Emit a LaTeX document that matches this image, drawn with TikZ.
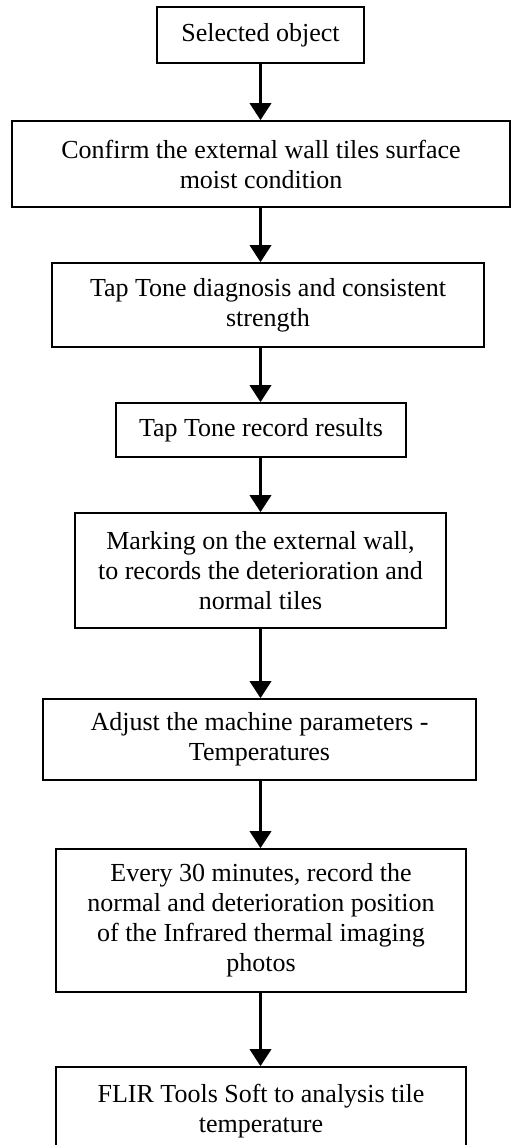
\documentclass[tikz,border=0pt]{standalone}
\usepackage{fontspec}
\setmainfont{Liberation Serif}
\usetikzlibrary{arrows.meta}
\begin{document}
\begin{tikzpicture}[x=1pt,y=-1pt,
  box/.style={draw, line width=1.6pt, inner sep=0pt, align=center,
    font=\fontsize{26}{30}\selectfont},
  flow/.style={-{Triangle[length=17pt,width=21pt]}, line width=3.5pt}]
\useasboundingbox (0,0) rectangle (512,1145);
\node[box, minimum width=207pt, minimum height=56pt] (b1) at (260.5,35) {Selected object};
\node[box, minimum width=498pt, minimum height=86pt] (b2) at (261,164) {Confirm the external wall tiles surface\\moist condition};
\node[box, minimum width=432pt, minimum height=84pt] (b3) at (268,305) {Tap Tone diagnosis and consistent\\strength};
\node[box, minimum width=290pt, minimum height=54pt] (b4) at (261,430) {Tap Tone record results};
\node[box, minimum width=371pt, minimum height=115pt] (b5) at (260.5,570.5) {Marking on the external wall,\\to records the deterioration and\\normal tiles};
\node[box, minimum width=433pt, minimum height=81pt] (b6) at (259.5,739.5) {Adjust the machine parameters -\\Temperatures};
\node[box, minimum width=410pt, minimum height=143pt] (b7) at (261,920.5) {Every 30 minutes, record the\\normal and deterioration position\\of the Infrared thermal imaging\\photos};
\node[box, minimum width=410pt, minimum height=88pt] (b8) at (261,1111) {FLIR Tools Soft to analysis tile\\temperature};
\draw[flow] (b1.south) -- (b2.north -| b1.south);
\draw[flow] (b2.south -| b1.south) -- (b3.north -| b1.south);
\draw[flow] (b3.south -| b1.south) -- (b4.north -| b1.south);
\draw[flow] (b4.south -| b1.south) -- (b5.north -| b1.south);
\draw[flow] (b5.south -| b1.south) -- (b6.north -| b1.south);
\draw[flow] (b6.south -| b1.south) -- (b7.north -| b1.south);
\draw[flow] (b7.south -| b1.south) -- (b8.north -| b1.south);
\end{tikzpicture}
\end{document}
